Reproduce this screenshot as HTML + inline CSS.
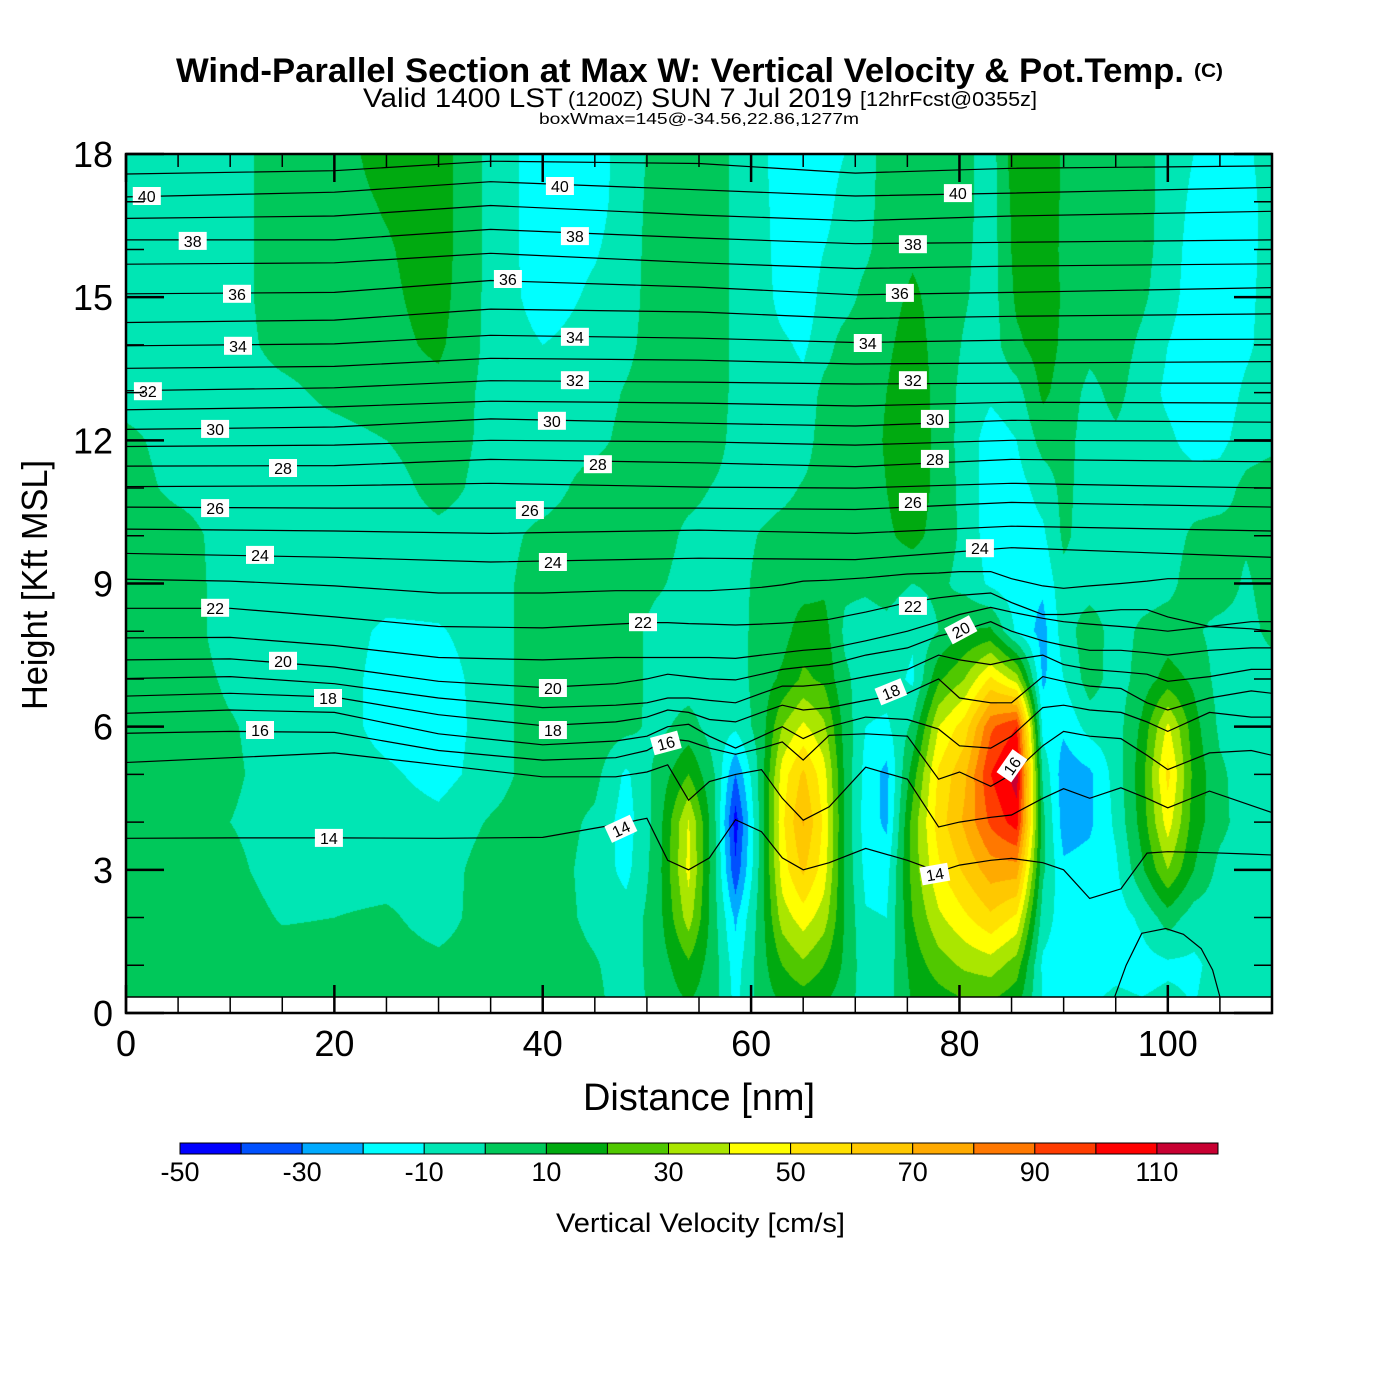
<!DOCTYPE html>
<html>
<head>
<meta charset="utf-8">
<style>
html,body{margin:0;padding:0;background:#fff;}
#wrap{position:relative;width:1400px;height:1400px;overflow:hidden;background:#fff;}
#field{position:absolute;left:126px;top:154px;}
#chart{position:absolute;left:0;top:0;}
text{font-family:"Liberation Sans",Arial,sans-serif;}
</style>
</head>
<body>
<div id="wrap">
<canvas id="field" width="1146" height="843"></canvas>
<svg id="chart" width="1400" height="1400" xmlns="http://www.w3.org/2000/svg">
  <g>
    <text x="176" y="82" font-size="34" font-weight="bold" textLength="1008" lengthAdjust="spacingAndGlyphs">Wind-Parallel Section at Max W: Vertical Velocity &amp; Pot.Temp.</text>
    <text x="1194" y="77" font-size="19" font-weight="bold" textLength="29" lengthAdjust="spacingAndGlyphs">(C)</text>
    <text x="363" y="107" font-size="27" textLength="200" lengthAdjust="spacingAndGlyphs">Valid 1400 LST</text>
    <text x="568" y="106" font-size="20" textLength="75" lengthAdjust="spacingAndGlyphs">(1200Z)</text>
    <text x="651" y="107" font-size="27" textLength="201" lengthAdjust="spacingAndGlyphs">SUN 7 Jul 2019</text>
    <text x="860" y="106" font-size="20" textLength="177" lengthAdjust="spacingAndGlyphs">[12hrFcst@0355z]</text>
    <text x="539" y="124" font-size="16" textLength="320" lengthAdjust="spacingAndGlyphs">boxWmax=145@-34.56,22.86,1277m</text>
  </g>
  <rect x="126" y="997" width="1146" height="16" fill="#fff"/>
  <g id="theta"></g>
  <g id="labels"></g>
  <g id="axes"></g>
  <text x="583" y="1110" font-size="38" textLength="232" lengthAdjust="spacingAndGlyphs">Distance [nm]</text>
  <text transform="translate(47,710) rotate(-90)" x="0" y="0" font-size="36" textLength="250" lengthAdjust="spacingAndGlyphs">Height [Kft MSL]</text>
  <g id="colorbar"></g>
  <text x="556" y="1232" font-size="27" textLength="289" lengthAdjust="spacingAndGlyphs">Vertical Velocity [cm/s]</text>
</svg>
</div>
<script>
// ---------- data ----------
const bandColors = ['#0000ff','#0050ff','#00aaff','#00ffff','#00e6b4','#00c85a','#00aa10','#50c800','#aae600','#ffff00','#ffe100','#ffc800','#ffaa00','#ff7800','#ff3c00','#ff0000','#c80032'];
const bandMin = -50;
const bandStep = 10;
const colorbarLabels = [-50,-30,-10,10,30,50,70,90,110];
const xTickLabels = [0,20,40,60,80,100];
const yTickLabels = [0,3,6,9,12,15,18];
// field columns: distance (nm)
const fieldX = [0,5,10,15,20,25,30,35,40,45,48,51,54,56.5,58.5,61,63,65,67,69,71,73,75.5,78,80.5,83,85.5,88,90,92.5,95,97.5,100,102.5,105,107.5,110];
// field rows: height (kft)
const fieldZ = [0,1,2,3,4,5,6,7,8,9,10,11,12,13,14,15,16,17,18];
// vertical velocity (cm/s), one array per column, values at heights fieldZ
const wCols = [
[6,6,6,6,6,6,6,6,6,6,6,5,3,-5,-5,-5,-5,-5,-5],
[6,6,6,6,6,6,6,6,6,6,5,-3,-5,-5,-5,-5,-5,-5,-5],
[6,6,6,3,0,2,1,-2,-5,-5,-5,-5,-5,-5,-5,-5,-5,-5,-5],
[6,5,-1,-5,-5,-5,-5,-5,-5,-5,-5,-5,-5,-3,4,6,6,6,6],
[6,5,0,-5,-5,-5,-5,-5,-5,-5,-5,-5,-4,3,6,6,6,6,6],
[6,5,2,-5,-5,-8,-14,-14,-12,-5,-5,-5,0,6,7,8,9,11,14],
[6,3,-5,-5,-7,-14,-16,-15,-11,-5,-3,4,6,7,12,14,15,15,15],
[6,6,6,5,1,-5,-5,-5,-5,-5,-5,-4,-3,-3,-3,-3,-3,-3,-3],
[6,6,6,6,6,6,6,6,6,6,3,-5,-5,-5,-10,-15,-16,-16,-16],
[3,1,-3,-4,-2,3,6,6,6,6,6,5,-3,-5,-6,-8,-11,-14,-15],
[-5,-5,-6,-13,-15,-12,3,6,6,6,6,6,3,1,-3,-5,-5,-5,-5],
[3,4,5,5,4,3,-3,-5,-5,2,6,6,6,6,6,6,5,4,3],
[8,18,35,43,41,20,4,-5,-5,-5,-3,4,6,6,6,6,6,6,6],
[3,4,3,2,2,0,-5,-5,-5,-5,-5,-1,5,6,6,6,6,6,6],
[-12,-15,-22,-38,-45,-30,-8,-5,-5,-5,-5,-5,-4,-3,-3,-3,-3,-3,-3],
[5,6,6,5,5,5,5,5,5,4,1,-5,-5,-5,-5,-5,-6,-7,-8],
[8,20,35,45,48,45,30,12,6,5,4,-3,-5,-5,-8,-14,-15,-15,-15],
[10,28,45,62,71,62,42,22,15,6,5,1,-5,-7,-12,-17,-17,-17,-17],
[8,20,35,45,48,44,32,18,14,8,5,5,5,3,-4,-6,-10,-14,-15],
[4,8,9,8,8,8,6,2,-2,2,5,6,6,5,4,-4,-5,-6,-10],
[-5,-6,-9,-13,-15,-14,-10,-5,-5,2,6,6,6,6,6,3,-2,-4,-5],
[-4,-6,-10,-14,-22,-23,-12,-5,-3,4,8,10,11,10,8,6,5,5,5],
[10,14,20,24,24,15,2,-12,-8,0,14,18,20,18,15,12,8,6,6],
[12,25,38,48,55,52,40,18,0,2,5,6,6,6,6,6,6,6,6],
[15,32,48,62,72,68,55,30,10,-3,-2,-3,-4,-3,-1,1,2,3,3],
[15,35,58,75,92,100,88,52,12,-12,-16,-16,-15,-8,-5,-5,-5,-5,-5],
[10,25,48,75,105,115,100,35,-12,-16,-16,-14,-10,-4,8,12,14,15,18],
[-10,-12,-5,2,3,-2,-14,-22,-24,-18,-12,-6,4,12,15,15,16,18,20],
[-12,-15,-15,-18,-25,-26,-18,-10,-5,-3,2,3,4,6,8,9,8,8,8],
[-10,-15,-15,-16,-22,-22,-6,5,6,-5,-5,-5,-5,-3,3,6,6,6,6],
[-6,-13,-15,-12,-8,-6,-5,-5,-5,-5,-5,-5,-2,3,5,6,6,6,6],
[-8,-14,-8,8,14,16,12,4,2,-5,-5,-5,-5,-5,-2,2,4,5,5],
[-6,-12,5,30,45,53,42,14,5,-3,-5,-5,-8,-12,-10,-6,-5,-5,-5],
[-10,-12,-5,10,15,17,14,8,2,5,2,-5,-14,-16,-16,-15,-14,-12,-10],
[-5,-6,-5,-3,3,2,-2,-4,-4,7,4,-5,-13,-16,-17,-16,-16,-16,-15],
[-3,-5,-5,-5,-5,-5,-5,-5,-4,-2,2,3,-5,-8,-12,-13,-14,-14,-12],
[2,-3,-5,-5,-5,-5,-5,-5,3,6,6,6,-3,-5,-5,-5,-5,-5,-5]
];
// potential temperature contours
const thetaUpperX = [0,20,35,55,70,85,110];
const thetaUpperLevels = [41,40,39,38,37,36,35,34,33,32,31,30,29,28,27,26,25,24];
const thetaUpperHeights = [
[17.58,17.65,17.85,17.8,17.6,17.7,17.75],
[17.1,17.2,17.42,17.25,17.12,17.18,17.3],
[16.65,16.7,16.92,16.72,16.6,16.7,16.8],
[16.2,16.2,16.42,16.24,16.12,16.15,16.2],
[15.69,15.72,15.92,15.72,15.6,15.65,15.7],
[15.07,15.1,15.35,15.21,15.05,15.1,15.2],
[14.47,14.52,14.75,14.69,14.55,14.6,14.65],
[13.98,14.02,14.2,14.14,14.05,14.1,14.12],
[13.51,13.55,13.72,13.68,13.6,13.62,13.65],
[13.04,13.1,13.25,13.22,13.18,13.2,13.2],
[12.64,12.7,12.82,12.78,12.72,12.8,12.78],
[12.23,12.28,12.45,12.36,12.3,12.42,12.38],
[11.87,11.9,12.0,11.97,11.9,12.0,11.98],
[11.46,11.47,11.6,11.53,11.45,11.6,11.55],
[11.03,11.05,11.1,11.02,11.0,11.1,11.0],
[10.6,10.58,10.58,10.58,10.55,10.7,10.6],
[10.14,10.1,10.05,10.12,10.05,10.2,10.1],
[9.63,9.55,9.45,9.53,9.5,9.75,9.55]
];
const thetaLowerX = [0,10,20,30,40,47,50,52,54,56,58.5,61,63,65,67.5,71,75,78,80,83,85,88,90,92.5,95.5,98,100,104,108,110];
const thetaLowerLevels = [14,15,16,17,18,19,20,21,22,23];
const thetaLowerHeights = [
[3.66,3.67,3.67,3.66,3.68,3.95,4.08,3.2,3.0,3.25,4.05,3.8,3.25,3.0,3.15,3.45,3.2,2.96,3.1,3.2,3.24,3.15,3.0,2.4,2.6,3.35,3.38,3.36,3.33,3.31],
[5.25,5.35,5.45,5.2,4.95,4.95,5.05,5.2,4.46,4.85,5.0,5.1,4.5,4.04,4.32,5.15,4.9,3.9,4.0,4.1,4.15,4.5,4.7,4.5,4.72,4.5,4.3,4.65,4.35,4.2],
[5.86,5.9,5.88,5.5,5.3,5.35,5.5,5.75,5.7,5.55,5.42,5.55,5.68,5.3,5.82,5.85,5.8,4.9,5.05,4.75,5.0,5.6,5.9,5.8,5.75,5.4,5.1,5.45,5.5,5.4],
[6.28,6.35,6.3,5.85,5.62,5.7,5.8,6.0,6.05,5.8,5.55,5.8,6.0,5.75,6.0,6.2,6.15,5.95,5.6,5.55,5.8,6.4,6.45,6.35,6.3,6.1,5.9,6.3,6.2,6.2],
[6.64,6.7,6.62,6.25,6.02,6.1,6.2,6.35,6.3,6.15,6.1,6.3,6.45,6.35,6.4,6.55,6.7,7.0,6.6,6.5,6.5,7.05,6.95,6.85,6.8,6.5,6.35,6.6,6.75,6.7],
[7.01,7.05,6.9,6.6,6.4,6.45,6.5,6.6,6.6,6.55,6.5,6.7,6.85,6.85,6.9,7.05,7.2,7.5,7.4,7.3,7.4,7.5,7.3,7.2,7.15,7.1,6.95,7.05,7.2,7.2],
[7.4,7.42,7.25,6.95,6.82,6.9,7.0,7.1,7.05,7.0,6.98,7.1,7.2,7.25,7.3,7.5,7.65,7.9,8.0,8.2,8.0,7.8,7.7,7.6,7.6,7.55,7.5,7.6,7.65,7.65],
[7.86,7.87,7.7,7.45,7.4,7.45,7.45,7.45,7.45,7.45,7.43,7.5,7.55,7.6,7.64,7.8,8.0,8.2,8.35,8.5,8.4,8.27,8.2,8.15,8.1,8.05,8.0,8.1,8.2,8.2],
[8.48,8.48,8.3,8.1,8.07,8.15,8.18,8.18,8.16,8.15,8.13,8.15,8.17,8.2,8.25,8.4,8.6,8.7,8.75,8.8,8.6,8.35,8.35,8.4,8.45,8.45,8.3,8.1,8.05,8.0],
[9.09,9.05,8.95,8.8,8.8,8.85,8.85,8.85,8.85,8.85,8.88,8.92,8.97,9.05,9.07,9.12,9.2,9.22,9.25,9.25,9.1,8.95,8.9,8.95,9.0,9.05,9.1,9.1,9.1,9.1]
];
const theta13X = [94.9,96,97.5,99.8,101.5,103.2,104.3,105];
const theta13Z = [0.34,1.0,1.67,1.77,1.65,1.35,0.9,0.34];
// contour label values & locations (nm, kft, rotation deg)
const labelValues = [40,40,40,38,38,38,36,36,36,34,34,34,32,32,32,30,30,30,28,28,28,26,26,26,24,24,24,22,22,22,20,20,20,18,18,18,16,16,16,14,14,14];
const labelX = [2.0,41.65,79.85,6.4,43.09,75.53,10.65,36.66,74.28,10.75,43.09,71.2,2.1,43.09,75.53,8.55,40.88,77.64,15.07,45.3,77.64,8.55,38.77,75.53,12.86,40.98,81.96,8.55,49.62,75.53,15.07,40.98,80.13,19.39,40.98,73.42,12.86,51.82,85.03,19.48,47.5,77.64];
const labelZ = [17.12,17.33,17.18,16.18,16.28,16.11,15.07,15.38,15.09,13.98,14.17,14.04,13.03,13.26,13.26,12.24,12.41,12.45,11.42,11.5,11.61,10.58,10.54,10.71,9.6,9.45,9.74,8.49,8.19,8.53,7.38,6.81,8.03,6.6,5.93,6.73,5.93,5.66,5.18,3.67,3.86,2.91];
const labelRot = [0,0,0,0,0,0,0,0,0,0,0,0,0,0,0,0,0,0,0,0,0,0,0,0,0,0,0,0,0,0,0,0,-28,0,0,-22,0,-15,-55,0,-25,-10];

// ---------- scales ----------
const plotL=126, plotR=1272, plotT=154, plotB=1013;
const xMax=110, zMax=18;
function X(nm){ return plotL + nm*(plotR-plotL)/xMax; }
function Y(k){ return plotB - k*(plotB-plotT)/zMax; }
const NS='http://www.w3.org/2000/svg';
function mk(tag, attrs){ const e=document.createElementNS(NS,tag); for(const k in attrs) e.setAttribute(k,attrs[k]); return e; }

// ---------- field ----------
(function(){
  const cv=document.getElementById('field');
  const ctx=cv.getContext('2d');
  const W=cv.width, H=cv.height;
  const img=ctx.createImageData(W,H);
  const rgb=bandColors.map(h=>[parseInt(h.substr(1,2),16),parseInt(h.substr(3,2),16),parseInt(h.substr(5,2),16)]);
  const pxPerNm=(plotR-plotL)/xMax, pxPerK=(plotB-plotT)/zMax;
  const colI=new Int32Array(W), colT=new Float32Array(W);
  for(let px=0;px<W;px++){
    const nm=(px+0.5)/pxPerNm;
    let i=0; while(i<fieldX.length-2 && nm>fieldX[i+1]) i++;
    colI[px]=i; colT[px]=Math.min(1,Math.max(0,(nm-fieldX[i])/(fieldX[i+1]-fieldX[i])));
  }
  for(let py=0;py<H;py++){
    const k=zMax-(py+0.5)/pxPerK;
    let j=0; while(j<fieldZ.length-2 && k>fieldZ[j+1]) j++;
    const tz=Math.min(1,Math.max(0,(k-fieldZ[j])/(fieldZ[j+1]-fieldZ[j])));
    for(let px=0;px<W;px++){
      const i=colI[px], tx=colT[px];
      const a=wCols[i][j], b=wCols[i+1][j], c=wCols[i][j+1], d=wCols[i+1][j+1];
      const v=(a*(1-tx)+b*tx)*(1-tz)+(c*(1-tx)+d*tx)*tz;
      let band=Math.floor((v-bandMin)/bandStep);
      if(band<0) band=0; if(band>bandColors.length-1) band=bandColors.length-1;
      const o=(py*W+px)*4, col=rgb[band];
      img.data[o]=col[0]; img.data[o+1]=col[1]; img.data[o+2]=col[2]; img.data[o+3]=255;
    }
  }
  ctx.putImageData(img,0,0);
})();

// ---------- theta contours ----------
(function(){
  const g=document.getElementById('theta');
  function addLine(xs, zs, lev){
    const pts=xs.map((x,i)=>X(x).toFixed(1)+','+Y(zs[i]).toFixed(1)).join(' ');
    const pl=mk('polyline',{points:pts,fill:'none',stroke:'#000','stroke-width':'1.2'});
    
    
    g.appendChild(pl);
  }
  thetaUpperLevels.forEach((lev,i)=>addLine(thetaUpperX, thetaUpperHeights[i], lev));
  thetaLowerLevels.forEach((lev,i)=>addLine(thetaLowerX, thetaLowerHeights[i], lev));
  addLine(theta13X, theta13Z, 13);

  const lg=document.getElementById('labels');
  labelValues.forEach((v,i)=>{
    const cx=X(labelX[i]), cy=Y(labelZ[i]);
    const grp=mk('g',{transform:'translate('+cx.toFixed(1)+','+cy.toFixed(1)+') rotate('+labelRot[i]+')'});
    
    
    grp.appendChild(mk('rect',{x:-14,y:-9,width:28,height:18,fill:'#fff'}));
    const t=mk('text',{x:0,y:6,'text-anchor':'middle','font-size':'16','font-family':'"Liberation Serif",serif'});
    t.textContent=String(v);
    grp.appendChild(t);
    lg.appendChild(grp);
  });
})();

// ---------- axes ----------
(function(){
  const g=document.getElementById('axes');
  function line(x1,y1,x2,y2,w,name){
    const l=mk('line',{x1:x1,y1:y1,x2:x2,y2:y2,stroke:'#000','stroke-width':w});
    
    
    g.appendChild(l);
  }
  line(plotL,997,plotR,997,1.5,'terrain-top-line');
  // y ticks
  for(let k=0;k<=zMax;k++){
    const y=Y(k), major=(k%3===0);
    const len=major?38:18;
    line(plotL,y,plotL+len,y,major?2.5:1.5,'y-tick-left');
    line(plotR-len,y,plotR,y,major?2.5:1.5,'y-tick-right');
  }
  // x ticks
  for(let nm=0;nm<=xMax;nm+=5){
    const x=X(nm), major=(nm%20===0);
    line(x,plotT,x,plotT+(major?28:13),major?2.5:1.5,'x-tick-top');
    line(x,major?985:997,x,plotB,major?2.5:1.5,'x-tick-bottom');
  }
  const fr=mk('rect',{x:plotL,y:plotT,width:plotR-plotL,height:plotB-plotT,fill:'none',stroke:'#000','stroke-width':'2.5'});
  
  
  g.appendChild(fr);
  yTickLabels.forEach(v=>{
    const t=mk('text',{x:113,y:(Y(v)+13).toFixed(1),'text-anchor':'end','font-size':'36'});
    
    
    t.textContent=String(v);
    g.appendChild(t);
  });
  xTickLabels.forEach(v=>{
    const t=mk('text',{x:X(v).toFixed(1),y:1056,'text-anchor':'middle','font-size':'36'});
    
    
    t.textContent=String(v);
    g.appendChild(t);
  });
})();

// ---------- colorbar ----------
(function(){
  const g=document.getElementById('colorbar');
  const x0=180, x1=1218, y0=1143, h=11;
  const bw=(x1-x0)/bandColors.length;
  bandColors.forEach((c,i)=>{
    const r=mk('rect',{x:(x0+i*bw).toFixed(1),y:y0,width:bw.toFixed(1),height:h,fill:c,stroke:'#000','stroke-width':'1'});
    
    
    g.appendChild(r);
  });
  colorbarLabels.forEach(v=>{
    const x=x0+(v-bandMin)/bandStep*bw;
    const t=mk('text',{x:x.toFixed(1),y:1181,'text-anchor':'middle','font-size':'27'});
    
    
    t.textContent=String(v);
    g.appendChild(t);
  });
})();
</script>
</body>
</html>
